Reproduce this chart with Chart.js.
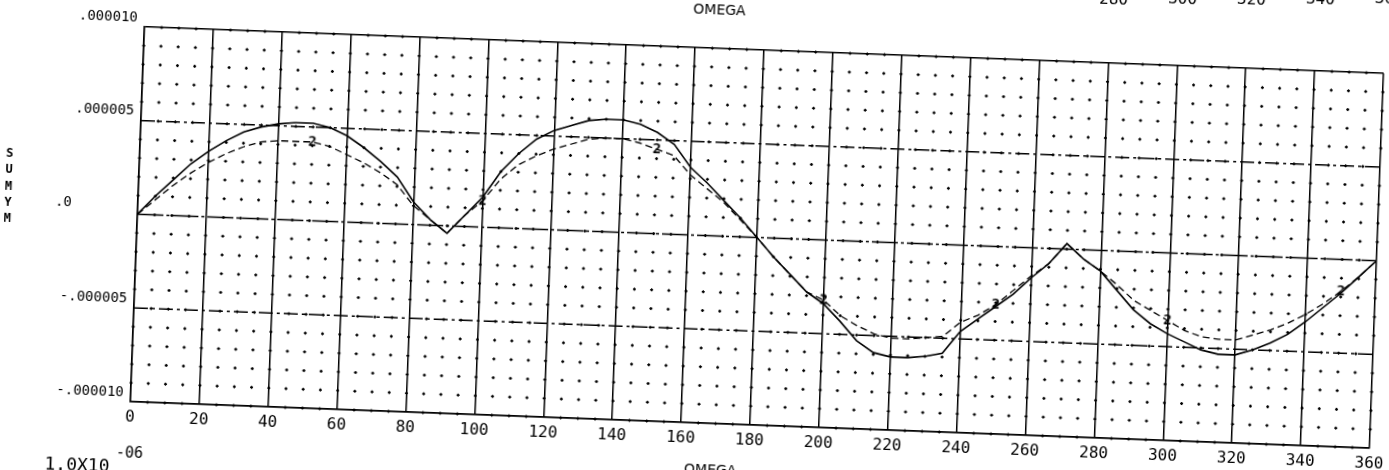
<!DOCTYPE html>
<html>
<head>
<meta charset="utf-8">
<script src="https://cdn.jsdelivr.net/npm/chart.js@4.4.1/dist/chart.umd.min.js"></script>
<style>
  html, body { margin:0; padding:0; background:#fff; width:1389px; height:470px; overflow:hidden; }
  #wrap { position:absolute; left:-50px; top:-60px; width:1489px; height:590px;
          transform-origin: 807px 297px; transform: rotate(2.15deg); }
  canvas { display:block; }
</style>
</head>
<body>
<div id="wrap"><canvas id="c" width="1489" height="590" style="width:1489px;height:590px"></canvas></div>
<script>
// ---- data (values in units of 1.0x10^-06) ----
const omega = [0,5,10,15,20,25,30,35,40,45,50,55,60,65,70,75,80,85,90,95,100,105,110,115,120,125,130,135,140,145,150,155,160,165,170,175,180,185,190,195,200,205,210,215,220,225,230,235,240,245,250,255,260,265,270,275,280,285,290,295,300,305,310,315,320,325,330,335,340,345,350,355,360];
const sumym1 = [0,1.0,1.9,2.8,3.5,4.1,4.6,4.9,5.1,5.2,5.2,5.0,4.6,4.0,3.3,2.5,1.2,0.3,-0.4,0.6,1.6,3.0,4.0,4.8,5.3,5.6,5.9,6.0,6.0,5.8,5.4,4.8,3.6,2.8,1.9,1.0,0,-1.0,-1.9,-2.8,-3.4,-4.3,-5.3,-5.9,-6.1,-6.1,-6.0,-5.8,-4.6,-3.9,-3.2,-2.5,-1.6,-0.8,0.3,-0.5,-1.1,-2.1,-3.1,-3.8,-4.3,-4.7,-5.1,-5.3,-5.3,-5.0,-4.6,-4.1,-3.4,-2.6,-1.8,-0.9,0];
const sumym2 = [0,0.8,1.6,2.3,2.9,3.4,3.8,4.1,4.2,4.2,4.2,4.0,3.6,3.2,2.7,2.1,1.0,0.3,-0.4,0.6,1.4,2.6,3.4,3.9,4.3,4.6,4.9,5.0,5.0,4.8,4.5,4.2,3.2,2.5,1.8,0.9,0,-1.0,-1.9,-2.8,-3.2,-4.0,-4.5,-4.9,-5.1,-5.1,-5.0,-4.9,-4.1,-3.7,-3.1,-2.3,-1.5,-0.8,0.3,-0.5,-1.1,-1.8,-2.6,-3.1,-3.6,-4.1,-4.4,-4.5,-4.5,-4.2,-3.9,-3.5,-3.0,-2.4,-1.7,-0.9,0];
const marker2At = [50,100,150,200,250,300,350];
const xTicks = [0,20,40,60,80,100,120,140,160,180,200,220,240,260,280,300,320,340,360];
const yTickValues = [10,5,0,-5,-10];
const yTickLabels = [".000010",".000005",".0","-.000005","-.000010"];
const ghostTicks = [280,300,320,340,360];
const yTitle = ["S","U","M","Y","M"];
const xTitle = "OMEGA";
const scaleText = "1.0X10";
const scaleExp = "-06";

// marker glyph "2"
const two = document.createElement('canvas');
two.width = 12; two.height = 16;
(function(){ const g = two.getContext('2d'); g.fillStyle = '#000';
  g.font = 'bold 14px "DejaVu Sans Mono"'; g.textAlign='center'; g.textBaseline='middle';
  g.fillText('2', 6, 8); })();

const mono = '"DejaVu Sans Mono", "Liberation Mono", monospace';

const extras = {
  id: 'extras',
  beforeDatasetsDraw(chart) {
    const {ctx, chartArea: a, scales: {x, y}} = chart;
    ctx.save();
    // minor grid crosses
    ctx.strokeStyle = '#000'; ctx.lineWidth = 1.3;
    for (let xv = 0; xv <= 360; xv += 5) {
      for (let yv = -10; yv <= 10; yv += 1) {
        if (xv % 20 === 0 && yv % 5 === 0) continue;
        const px = x.getPixelForValue(xv), py = y.getPixelForValue(yv);
        ctx.beginPath();
        ctx.moveTo(px - 1.5, py); ctx.lineTo(px + 1.5, py);
        ctx.moveTo(px, py - 1.5); ctx.lineTo(px, py + 1.5);
        ctx.stroke();
      }
    }
    // major horizontal dash-dot lines
    ctx.lineWidth = 1.5;
    [5, 0, -5].forEach(v => {
      const py = y.getPixelForValue(v);
      ctx.setLineDash(v === 0 ? [26, 3, 3, 3] : [14, 4, 3, 4]);
      ctx.beginPath(); ctx.moveTo(a.left, py); ctx.lineTo(a.right, py); ctx.stroke();
    });
    ctx.setLineDash([]);
    ctx.restore();
  },
  afterDraw(chart) {
    const {ctx, chartArea: a, scales: {x}} = chart;
    ctx.save();
    ctx.fillStyle = '#000';
    ctx.textAlign = 'center'; ctx.textBaseline = 'middle';
    // top title (ghost of previous frame)
    ctx.font = '14px "DejaVu Sans"';
    ctx.fillText(xTitle, 761, a.top - 38);
    // ghost tick labels of the frame above (cut by the page edge)
    ctx.font = '16px ' + mono;
    ghostTicks.forEach((v, i) => {
      ctx.fillText(String(v), x.getPixelForValue(v) + 3, a.top - 63 - i * 2.7);
    });
    // vertical y title
    ctx.font = 'bold 12px ' + mono;
    yTitle.forEach((ch, i) => ctx.fillText(ch, 57, 242 + i * 16.2));
    // bottom x title
    ctx.font = '14px "DejaVu Sans"';
    ctx.fillText(xTitle, 769, a.bottom + 47);
    // scale factor
    ctx.font = '18px ' + mono;
    ctx.fillText(scaleText, 136, a.bottom + 66);
    ctx.font = '15px ' + mono;
    ctx.fillText(scaleExp, 188, a.bottom + 52);
    ctx.restore();
  }
};

new Chart(document.getElementById('c'), {
  type: 'line',
  data: {
    datasets: [
      { label: 'SUMYM 1', data: omega.map((w, i) => ({x: w, y: sumym1[i]})),
        borderColor: '#000', borderWidth: 1.6, pointRadius: 0, tension: 0, fill: false },
      { label: 'SUMYM 2', data: omega.map((w, i) => ({x: w, y: sumym2[i]})),
        borderColor: '#000', borderWidth: 1.3, borderDash: [7, 4], tension: 0, fill: false,
        pointRadius: c => marker2At.includes(omega[c.dataIndex]) ? 5 : 0,
        pointStyle: c => marker2At.includes(omega[c.dataIndex]) ? two : 'circle' }
    ]
  },
  options: {
    responsive: false, devicePixelRatio: 1, animation: false,
    layout: { padding: { top: 110, right: 62, left: 0, bottom: 0 } },
    plugins: { legend: { display: false }, tooltip: { enabled: false }, title: { display: false } },
    scales: {
      x: {
        type: 'linear', min: 0, max: 360,
        afterBuildTicks: s => { s.ticks = xTicks.map(v => ({value: v})); },
        afterFit: s => { s.height = 105; },
        grid: { color: '#000', lineWidth: 1.5, drawTicks: false },
        border: { display: true, color: '#000', width: 1.5 },
        ticks: { color: '#000', font: { family: mono, size: 16 }, padding: 6, maxRotation: 0, autoSkip: false,
                 callback: v => String(v) }
      },
      y: {
        type: 'linear', min: -10, max: 10,
        afterBuildTicks: s => { s.ticks = yTickValues.map(v => ({value: v})); },
        afterFit: s => { s.width = 187; },
        grid: { color: c => (c.tick && Math.abs(c.tick.value) === 10) ? '#000' : 'rgba(0,0,0,0)', lineWidth: 1.5, drawTicks: false },
        border: { display: true, color: '#000', width: 1.5 },
        ticks: { color: '#000', font: { family: mono, size: 14 }, padding: 7, labelOffset: -9, autoSkip: false,
                 callback: v => { const k = yTickValues.indexOf(v); const t = k >= 0 ? yTickLabels[k] : '';
                                  return t === '.0' ? t + '       ' : t; } }
      }
    }
  },
  plugins: [extras]
});
</script>
</body>
</html>
